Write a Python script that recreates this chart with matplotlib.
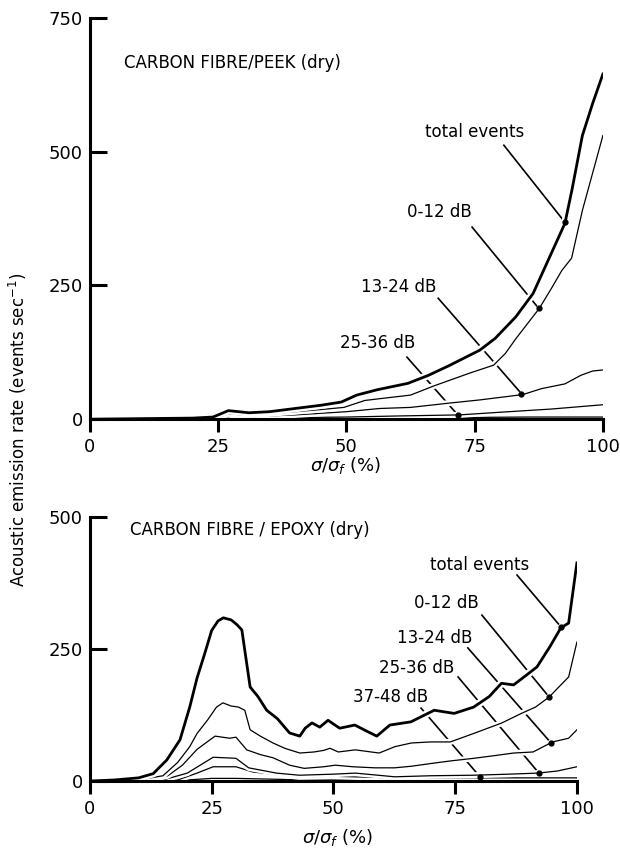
import matplotlib
matplotlib.use("Agg")
import matplotlib.pyplot as plt
import matplotlib.patheffects as pe

plt.rcParams["font.family"] = ["DejaVu Sans"]
plt.rcParams["mathtext.fontset"] = "dejavusans"
plt.rcParams["font.size"] = 12

# ---- carbon fibre / PEEK (top panel) ----
peek_total_x = [0, 10, 20, 24, 26, 27, 29, 31, 35, 40, 45, 49, 52, 56, 62, 66, 70, 76, 79, 83, 86.4, 89, 92.6, 94, 96, 98, 100]
peek_total_y = [0, 1, 2, 4, 12, 16, 14, 12, 14, 20, 26, 32, 45, 55, 67, 82, 100, 129, 151, 191, 235, 290, 366, 430, 530, 590, 645]
peek_0_12_x = [0, 20, 25, 27, 30, 35, 40, 45, 49.5, 53.6, 58, 62.5, 67, 74, 78.7, 81, 83, 87.6, 90, 92, 93.9, 96, 98, 100]
peek_0_12_y = [0, 1, 3, 10, 8, 10, 14, 18, 22, 35, 40, 45, 62, 86, 101, 123, 150, 207, 245, 278, 301, 390, 460, 530]
peek_13_24_x = [0, 20, 25, 28, 32, 40, 50, 56.5, 62.5, 70, 76, 84.4, 88, 92.6, 95.7, 98, 100]
peek_13_24_y = [0, 1, 2, 6, 5, 8, 14, 20, 22, 30, 36, 46, 57, 66, 82, 90, 92]
peek_25_36_x = [0, 25, 30, 40, 50, 60, 72, 80, 90, 100]
peek_25_36_y = [0, 1, 2, 3, 4, 6, 8, 13, 19, 27]
peek_37_48_x = [0, 30, 50, 70, 85, 100]
peek_37_48_y = [0, 1, 2, 3, 4, 4]

# label text position, leader start, leader end (data units)
peek_labels = ["total events", "0-12 dB", "13-24 dB", "25-36 dB"]
peek_label_xy = [(74.9, 536), (68.2, 387), (60.2, 247), (56.0, 142)]
peek_leader_from = [(80.7, 512), (74.5, 359), (67.9, 226), (61.8, 116)]
peek_leader_to = [(92.6, 368), (87.5, 207), (84.1, 48), (71.8, 7)]

# ---- carbon fibre / epoxy (bottom panel) ----
epoxy_total_x = [0, 5, 10, 13, 15.8, 18.5, 20.5, 22, 23.6, 25, 26.3, 27.4, 29, 30.2, 31.2, 32.9, 34.5, 36.3, 38.5, 41,
                 43.1, 44.2, 45.6, 47.2, 48.9, 50, 51.3, 54.4, 56.5, 58.9, 61.6, 65.9, 70.7, 74.8, 78.8, 82, 84.5, 87,
                 89, 91.8, 94.5, 96.7, 98.3, 100]
epoxy_total_y = [0, 2, 6, 14, 40, 78, 140, 195, 242, 285, 303, 309, 305, 296, 286, 178, 160, 134, 118, 91,
                 85, 100, 110, 102, 115, 108, 100, 106, 96, 85, 106, 112, 134, 128, 140, 160, 185, 182,
                 196, 216, 255, 290, 299, 413]
epoxy_0_12_x = [0, 10, 15, 18, 20.5, 22, 24.2, 26, 27.3, 29, 30.5, 31.8, 32.9, 35, 37.6, 40, 43.1, 46, 48, 49.3, 51,
                54.5, 59.4, 62.6, 66, 69.9, 74, 78.8, 84.6, 88.6, 91.5, 94.3, 96.5, 98.3, 100]
epoxy_0_12_y = [0, 2, 10, 35, 65, 90, 116, 140, 148, 142, 140, 134, 97, 85, 72, 62, 53, 55, 58, 62, 55,
                59, 53, 65, 72, 74, 74, 90, 110, 128, 140, 159, 180, 197, 263]
epoxy_13_24_x = [0, 12, 16, 19, 22, 25.7, 28.7, 30, 32.2, 35, 37.6, 41, 44, 48, 50.4, 54, 58.5, 62.6, 66, 70.7, 74,
                 78.8, 83, 87, 91, 95, 98.3, 100]
epoxy_13_24_y = [0, 2, 10, 30, 60, 85, 81, 83, 59, 50, 44, 30, 24, 27, 30, 27, 25, 25, 28, 34, 38,
                 43, 48, 53, 55, 74, 81, 97]
epoxy_25_36_x = [0, 15, 20, 25.3, 30, 32.6, 38.3, 43, 50, 54.5, 62.6, 70, 78.8, 86, 92, 96, 100]
epoxy_25_36_y = [0, 2, 15, 45, 43, 25, 15, 11, 13, 15, 8, 10, 11, 13, 15, 19, 27]
epoxy_37_48_x = [0, 18, 22, 25.3, 30, 33.5, 43, 50, 62.6, 80, 100]
epoxy_37_48_y = [0, 2, 15, 27, 27, 17, 8, 9, 6, 6, 6]
epoxy_rest_x = [0, 20, 25, 30, 40, 60, 100]
epoxy_rest_y = [0, 2, 5, 5, 3, 2, 2]

epoxy_labels = ["total events", "0-12 dB", "13-24 dB", "25-36 dB", "37-48 dB"]
epoxy_label_xy = [(80.1, 409), (73.1, 337), (70.7, 271), (67.1, 214), (61.8, 159)]
epoxy_leader_from = [(87.7, 390), (80.5, 314), (77.6, 252), (75.6, 197), (68.0, 138)]
epoxy_leader_to = [(96.7, 292), (94.3, 159), (94.7, 72), (92.2, 15), (80.1, 8)]

x_ticks = [0, 25, 50, 75, 100]


def draw_curve(ax, x, y, lw):
    halo = [pe.withStroke(linewidth=lw + 3.5, foreground="white")]
    ax.plot(x, y, color="black", lw=lw, zorder=2, path_effects=halo,
            solid_joinstyle="round")


def draw_leaders(ax, labels, label_xy, start, end):
    for lab, (tx, ty), (x0, y0), (x1, y1) in zip(labels, label_xy, start, end):
        ax.text(tx, ty, lab, ha="center", va="center", fontsize=12)
        ax.plot([x0, x1], [y0, y1], color="black", lw=1.2, zorder=1)
        ax.plot([x1], [y1], "o", color="black", ms=3.5, zorder=3)


def style_axes(ax, ymax, yticks):
    ax.set_xlim(0, 100)
    ax.set_ylim(0, ymax)
    for s in ["top", "right"]:
        ax.spines[s].set_visible(False)
    for s in ["left", "bottom"]:
        ax.spines[s].set_linewidth(2.2)
        ax.spines[s].set_zorder(4)
    ax.set_xticks(x_ticks)
    ax.set_yticks(yticks)
    ax.tick_params(axis="x", direction="out", length=9.5, width=2.2, pad=4, labelsize=13)
    ax.tick_params(axis="y", direction="in", length=12, width=2.2, pad=5, labelsize=13)


fig = plt.figure(figsize=(6.2, 8.52), dpi=100)

ax1 = fig.add_axes([0.145, 0.508, 0.8274, 0.471])
style_axes(ax1, 750, [0, 250, 500, 750])
for xs, ys, lw in [(peek_37_48_x, peek_37_48_y, 0.9), (peek_25_36_x, peek_25_36_y, 0.9),
                   (peek_13_24_x, peek_13_24_y, 0.9), (peek_0_12_x, peek_0_12_y, 0.9),
                   (peek_total_x, peek_total_y, 2.0)]:
    draw_curve(ax1, xs, ys, lw)
draw_leaders(ax1, peek_labels, peek_label_xy, peek_leader_from, peek_leader_to)

ax2 = fig.add_axes([0.145, 0.0833, 0.7855, 0.310])
style_axes(ax2, 500, [0, 250, 500])
for xs, ys, lw in [(epoxy_rest_x, epoxy_rest_y, 0.9), (epoxy_37_48_x, epoxy_37_48_y, 0.9),
                   (epoxy_25_36_x, epoxy_25_36_y, 0.9), (epoxy_13_24_x, epoxy_13_24_y, 0.9),
                   (epoxy_0_12_x, epoxy_0_12_y, 0.9), (epoxy_total_x, epoxy_total_y, 2.0)]:
    draw_curve(ax2, xs, ys, lw)
draw_leaders(ax2, epoxy_labels, epoxy_label_xy, epoxy_leader_from, epoxy_leader_to)

fig.text(124 / 620, 1 - 63 / 852, "CARBON FIBRE/PEEK (dry)", ha="left", va="center", fontsize=12)
fig.text(130 / 620, 1 - 530 / 852, "CARBON FIBRE / EPOXY (dry)", ha="left", va="center", fontsize=12)

fig.text(346 / 620, 1 - 465 / 852, r"$\sigma/\sigma_f$ (%)", ha="center", va="center", fontsize=13)
fig.text(338 / 620, 1 - 838 / 852, r"$\sigma/\sigma_f$ (%)", ha="center", va="center", fontsize=13)
fig.text(18 / 620, 1 - 430 / 852, r"Acoustic emission rate (events sec$^{-1}$)",
         rotation=90, ha="center", va="center", fontsize=12)

fig.savefig("out.png", dpi=100)
